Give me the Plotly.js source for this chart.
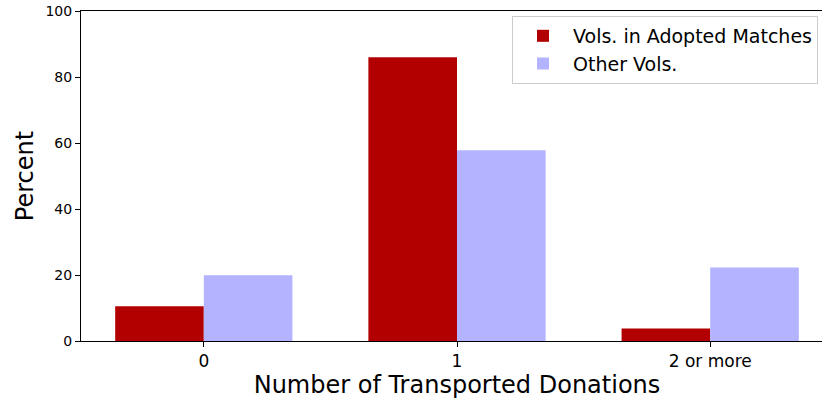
<!DOCTYPE html>
<html>
<head>
<meta charset="utf-8">
<script src="https://cdn.plot.ly/plotly-3.0.1.min.js"></script>
<style>
  html, body { margin: 0; padding: 0; background: #fff; overflow: hidden; }
  #chart { width: 833px; height: 400px; }
</style>
</head>
<body>
<div id="chart"></div>
<script>
// Share of volunteers by number of donations they transported
const categories = ['0', '1', '2 or more'];
const adoptedVols = [10.5, 86.0, 3.8];
const otherVols = [19.9, 57.8, 22.3];
const seriesNames = ['Vols. in Adopted Matches', 'Other Vols.'];
const yTicks = [0, 20, 40, 60, 80, 100];

const positions = categories.map((_, i) => i);
const barWidth = 0.35;
const font = 'DejaVu Sans, sans-serif';

const traces = [
  {
    type: 'bar',
    name: seriesNames[0],
    x: positions.map(p => p - barWidth / 2),
    y: adoptedVols,
    width: barWidth,
    marker: { color: '#b20000' }
  },
  {
    type: 'bar',
    name: seriesNames[1],
    x: positions.map(p => p + barWidth / 2),
    y: otherVols,
    width: barWidth,
    marker: { color: '#b3b3ff' }
  }
];

// The axes run a little past the right edge of the window, so the right spine is cut off
const layout = {
  width: 833,
  height: 400,
  margin: { l: 81, r: 0, t: 11, b: 59 },
  paper_bgcolor: '#fff',
  plot_bgcolor: '#fff',
  barmode: 'overlay',
  showlegend: true,
  font: { family: font, color: '#000' },
  xaxis: {
    range: [-0.485, 2.485],
    tickmode: 'array',
    tickvals: positions,
    ticktext: categories,
    ticks: 'outside',
    ticklen: 5,
    tickcolor: '#000',
    tickfont: { size: 17, family: font },
    showgrid: false,
    zeroline: false,
    showline: true,
    mirror: true,
    linecolor: '#000',
    linewidth: 1,
    title: { text: 'Number of Transported Donations', font: { size: 24, family: font }, standoff: 4 }
  },
  yaxis: {
    range: [0, 100],
    tickmode: 'array',
    tickvals: yTicks,
    ticks: 'outside',
    ticklen: 5,
    tickcolor: '#000',
    tickfont: { size: 14, family: font },
    showgrid: false,
    zeroline: false,
    showline: true,
    mirror: true,
    linecolor: '#000',
    linewidth: 1,
    title: { text: 'Percent', font: { size: 24, family: font }, standoff: 5 }
  },
  legend: {
    x: (512 - 81) / 752,
    xanchor: 'left',
    y: 0.985,
    yanchor: 'top',
    bgcolor: 'rgba(255,255,255,0.8)',
    bordercolor: '#cccccc',
    borderwidth: 1,
    font: { size: 19, family: font },
    itemwidth: 50,
    tracegroupgap: 0
  }
};

Plotly.newPlot('chart', traces, layout, { displayModeBar: false, staticPlot: true });
</script>
</body>
</html>
